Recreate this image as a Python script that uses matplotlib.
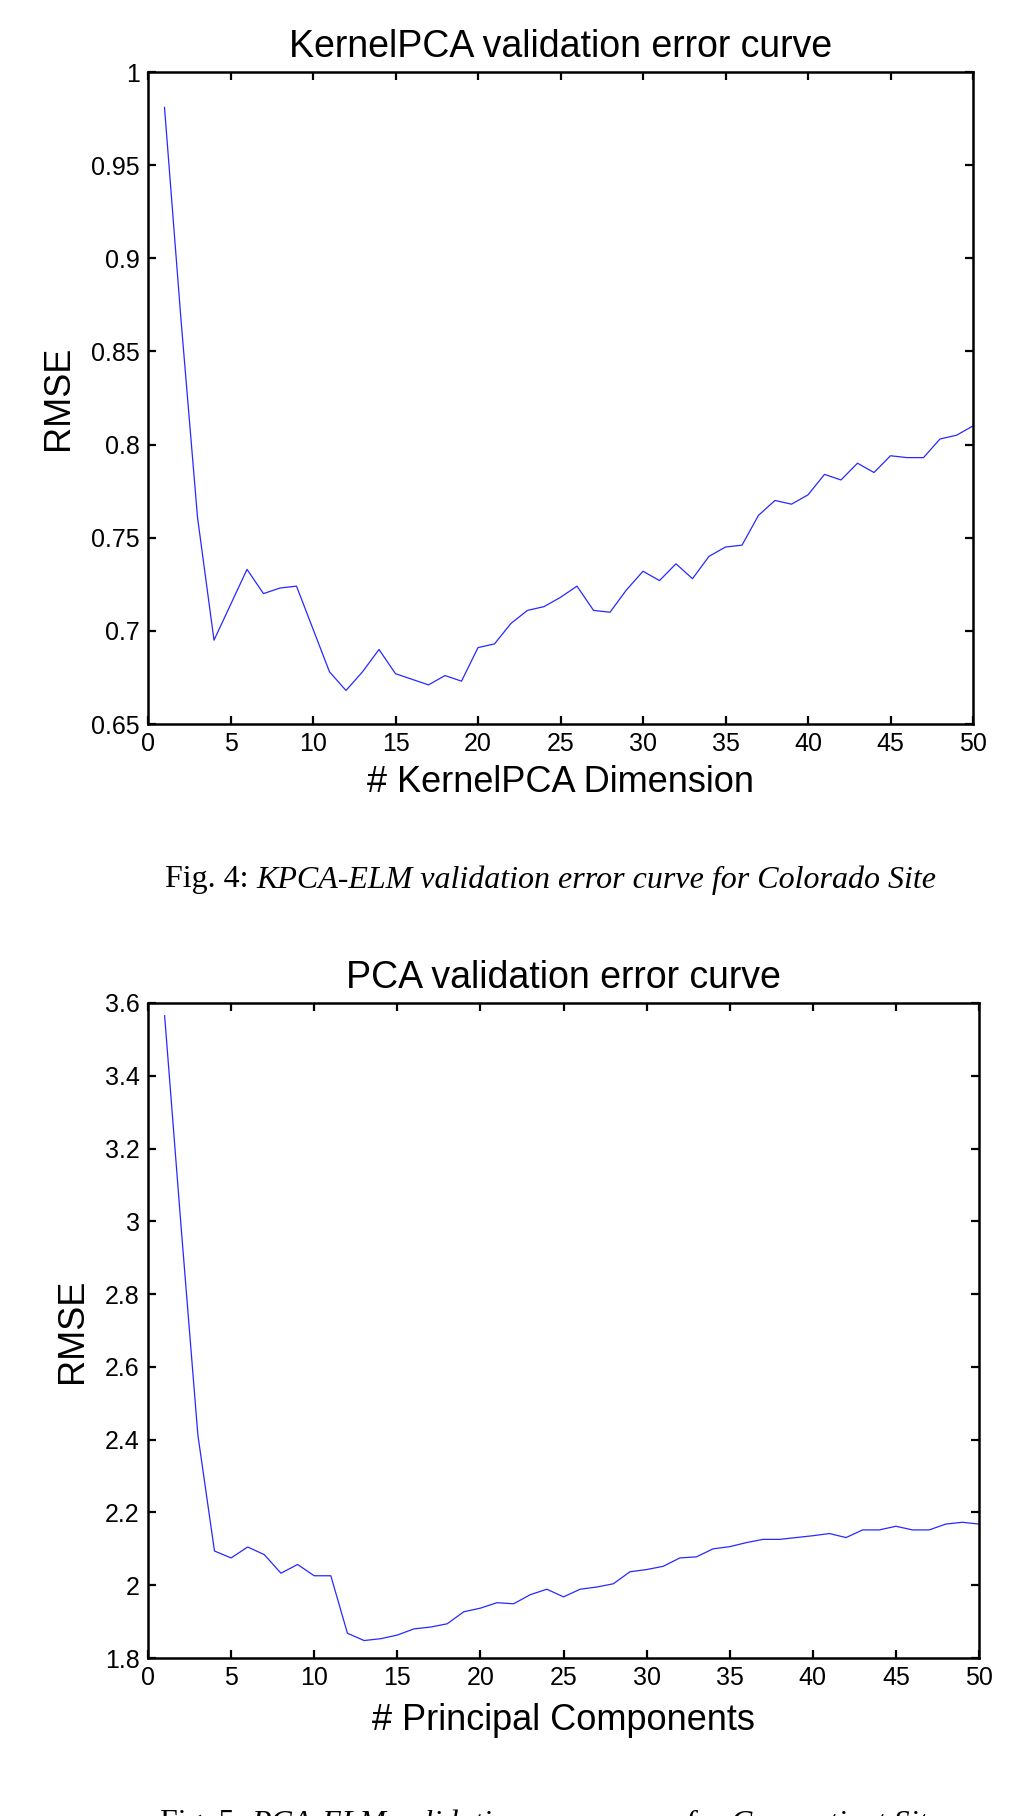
import matplotlib
matplotlib.use("Agg")
import matplotlib.pyplot as plt
from matplotlib.ticker import FuncFormatter
import numpy as np

plt.rcParams['font.family'] = ['Liberation Sans', 'DejaVu Sans']

# KernelPCA curve (Colorado site)
kpca_dims = list(range(1, 51))
kpca_rmse = [0.981, 0.867, 0.761, 0.695, 0.714, 0.733, 0.720, 0.723, 0.724, 0.701,
             0.678, 0.668, 0.678, 0.690, 0.677, 0.674, 0.671, 0.676, 0.673, 0.691,
             0.693, 0.704, 0.711, 0.713, 0.718, 0.724, 0.711, 0.710, 0.722, 0.732,
             0.727, 0.736, 0.728, 0.740, 0.745, 0.746, 0.762, 0.770, 0.768, 0.773,
             0.784, 0.781, 0.790, 0.785, 0.794, 0.793, 0.793, 0.803, 0.805, 0.810]

# PCA curve (Connecticut site)
pca_comps = list(range(1, 51))
pca_rmse = [3.565, 2.980, 2.413, 2.094, 2.075, 2.105, 2.084, 2.033, 2.057, 2.026,
            2.026, 1.868, 1.848, 1.853, 1.863, 1.880, 1.885, 1.894, 1.927, 1.937,
            1.952, 1.949, 1.974, 1.989, 1.968, 1.989, 1.995, 2.004, 2.037, 2.043,
            2.052, 2.075, 2.078, 2.100, 2.106, 2.117, 2.126, 2.126, 2.131, 2.136,
            2.142, 2.131, 2.152, 2.152, 2.162, 2.152, 2.152, 2.168, 2.173, 2.168]

xticks = [0, 5, 10, 15, 20, 25, 30, 35, 40, 45, 50]
kpca_yticks = [0.65, 0.7, 0.75, 0.8, 0.85, 0.9, 0.95, 1.0]
pca_yticks = [1.8, 2.0, 2.2, 2.4, 2.6, 2.8, 3.0, 3.2, 3.4, 3.6]

W, H = 1026, 1816
fig = plt.figure(figsize=(W / 100, H / 100), dpi=100)


def px_axes(left, top, right, bottom):
    return fig.add_axes([left / W, 1 - bottom / H, (right - left) / W, (bottom - top) / H])


def style(ax, yticks, ylim, title, xlabel, ylab_x, xlab_y):
    ax.set_xlim(0, 50)
    ax.set_ylim(*ylim)
    ax.set_xticks(xticks)
    ax.set_yticks(yticks)
    ax.yaxis.set_major_formatter(FuncFormatter(lambda v, p: '%g' % round(v, 3)))
    ax.tick_params(direction='in', length=6, width=1.6, labelsize=18, pad=6,
                   top=True, right=True)
    for s in ax.spines.values():
        s.set_linewidth(1.8)
    ax.set_title(title, fontsize=27, pad=11)
    ax.set_xlabel(xlabel, fontsize=26, va='center')
    ax.set_ylabel('RMSE', fontsize=26, va='center')
    ax.xaxis.set_label_coords(0.5, xlab_y)
    ax.yaxis.set_label_coords(ylab_x, 0.5)


ax1 = px_axes(148, 72, 973, 724)
ax1.plot(kpca_dims, kpca_rmse, color='#2828ff', lw=0.9)
style(ax1, kpca_yticks, (0.65, 1.0), 'KernelPCA validation error curve',
      '# KernelPCA Dimension', -0.109, -0.089)

ax2 = px_axes(148, 1003, 979, 1658)
ax2.plot(pca_comps, pca_rmse, color='#2828ff', lw=0.9)
style(ax2, pca_yticks, (1.8, 3.6), 'PCA validation error curve',
      '# Principal Components', -0.091, -0.095)

fig.canvas.draw()
r = fig.canvas.get_renderer()


def caption(prefix, rest, y_px, cx_px):
    t1 = fig.text(0, 1 - y_px / H, prefix, fontsize=23, va='center', ha='left',
                  family='Liberation Serif')
    t2 = fig.text(0, 1 - y_px / H, rest, fontsize=23, va='center', ha='left',
                  family='Liberation Serif', style='italic')
    w1 = t1.get_window_extent(r).width
    w2 = t2.get_window_extent(r).width
    x0 = cx_px - (w1 + w2) / 2
    t1.set_x(x0 / W)
    t2.set_x((x0 + w1) / W)


caption('Fig. 4: ', 'KPCA-ELM validation error curve for Colorado Site', 880, 551)
caption('Fig. 5: ', 'PCA-ELM validation error curve for Connecticut Site', 1824, 551)

fig.savefig('out.png', dpi=100)
